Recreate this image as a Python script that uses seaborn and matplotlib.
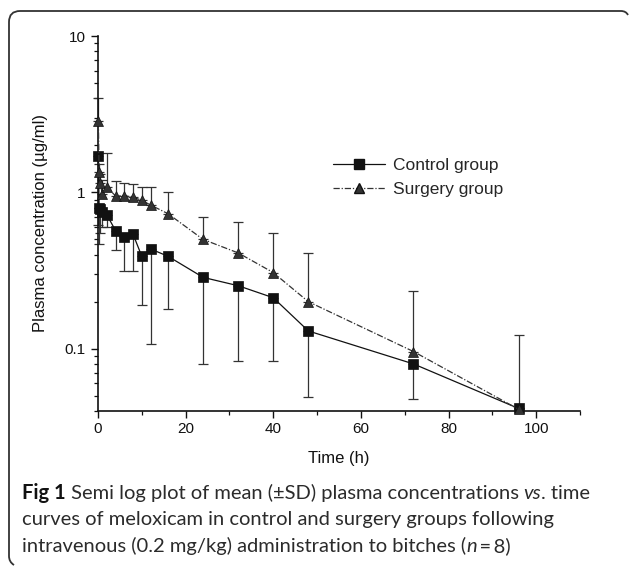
import numpy as np
import pandas as pd
import matplotlib
matplotlib.use("Agg")
import matplotlib.pyplot as plt
import seaborn as sns
from matplotlib.lines import Line2D
from matplotlib.path import Path
from matplotlib.patches import PathPatch
from matplotlib.ticker import NullFormatter, LogLocator

# ---------------- data ----------------
times = [0.083, 0.25, 0.5, 1, 2, 4, 6, 8, 10, 12, 16, 24, 32, 40, 48, 72, 96]
control_mean = [1.70, 0.80, 0.78, 0.75, 0.72, 0.57, 0.52, 0.54, 0.39, 0.435, 0.39,
                0.286, 0.253, 0.212, 0.130, 0.080, 0.0415]
control_low = [0.62, 0.47, 0.55, 0.60, 0.60, 0.43, 0.313, 0.313, 0.19, 0.108, 0.18,
               0.080, 0.084, 0.084, 0.049, 0.048, 0.0415]
surgery_mean = [2.85, 1.35, 1.15, 0.97, 1.08, 0.95, 0.955, 0.93, 0.89, 0.83, 0.73,
                0.50, 0.41, 0.307, 0.20, 0.096, 0.041]
surgery_high = [4.0, 1.53, 1.32, 1.20, 1.78, 1.18, 1.15, 1.13, 1.09, 1.09, 1.00,
                0.70, 0.645, 0.55, 0.41, 0.235, 0.123]
groups = ["Control group", "Surgery group"]
x_ticks = [0, 20, 40, 60, 80, 100]
y_ticks = [0.1, 1, 10]
y_tick_labels = ["0.1", "1", "10"]

df = pd.DataFrame({
    "time": times + times,
    "conc": control_mean + surgery_mean,
    "group": [groups[0]] * len(times) + [groups[1]] * len(times),
})

# ---------------- figure ----------------
sns.set_theme(style="ticks")
plt.rcParams["font.family"] = ["Liberation Sans", "DejaVu Sans"]

W, H = 630, 567
fig = plt.figure(figsize=(W / 100, H / 100), dpi=100)
ax = fig.add_axes([98 / W, 1 - 411 / H, (580 - 98) / W, (411 - 36) / H])

# error bars (one-sided)
c_low = np.array(control_mean) - np.array(control_low)
ax.errorbar(times, control_mean, yerr=[c_low, np.zeros(len(times))], fmt="none",
            ecolor="#333333", elinewidth=0.9, capsize=3.5, capthick=0.9, zorder=1,
            clip_on=False)
s_high = np.array(surgery_high) - np.array(surgery_mean)
ax.errorbar(times, surgery_mean, yerr=[np.zeros(len(times)), s_high], fmt="none",
            ecolor="#333333", elinewidth=0.9, capsize=3.5, capthick=0.9, zorder=1,
            clip_on=False)

sns.lineplot(data=df, x="time", y="conc", hue="group", style="group",
             palette={groups[0]: "#111111", groups[1]: "#333333"},
             markers={groups[0]: "s", groups[1]: "^"},
             dashes={groups[0]: "", groups[1]: (5, 1.5, 1, 1.5)},
             markersize=7.5, markeredgecolor="#111111", markeredgewidth=0.5,
             linewidth=0.9, ax=ax, legend=False, zorder=3, clip_on=False)

ax.set_yscale("log")
ax.set_xlim(0, 110)
ax.set_ylim(0.04, 10)
ax.set_xticks(x_ticks)
ax.set_xticks(np.arange(10, 111, 20), minor=True)
ax.set_yticks(y_ticks)
ax.set_yticklabels(y_tick_labels)
ax.yaxis.set_minor_locator(LogLocator(base=10, subs=np.arange(2, 10)))
ax.yaxis.set_minor_formatter(NullFormatter())

for s in ["top", "right"]:
    ax.spines[s].set_visible(False)
for s in ["left", "bottom"]:
    ax.spines[s].set_linewidth(1.2)
    ax.spines[s].set_color("#111111")
ax.tick_params(axis="both", which="major", direction="out", length=5, width=1.0,
               labelsize=11, colors="#111111", pad=3)
ax.tick_params(axis="both", which="minor", direction="out", length=3, width=0.9,
               colors="#111111")
ax.tick_params(axis="y", which="major", pad=4)
ax.set_xlabel("Time (h)", fontsize=12, labelpad=11, color="#111111")
ax.set_ylabel("Plasma concentration (\u00b5g/ml)", fontsize=12, labelpad=12, color="#111111")
ax.grid(False)

# legend
handles = [
    Line2D([], [], color="#111111", lw=0.9, marker="s", markersize=7.5,
           markeredgecolor="#111111"),
    Line2D([], [], color="#333333", lw=0.9, ls=(0, (5, 1.5, 1, 1.5)), marker="^",
           markersize=7.5, markeredgecolor="#111111"),
]
leg = ax.legend(handles, groups, loc="upper left",
                bbox_to_anchor=((326 - 98) / (580 - 98), (411 - 151) / (411 - 36)),
                frameon=False, fontsize=12.5, handlelength=3.0, handletextpad=0.45,
                labelspacing=0.5, borderaxespad=0)

# ---------------- caption ----------------
cap_color = "#2b2b2b"
cap_font = ["Lato", "DejaVu Sans"]
cap_size = 14.5
lines = [
    [("Fig 1", "bold", "normal"), (" Semi log plot of mean (\u00b1SD) plasma concentrations ", "normal", "normal"),
     ("vs", "normal", "italic"), (". time", "normal", "normal")],
    [("curves of meloxicam in control and surgery groups following", "normal", "normal")],
    [("intravenous (0.2 mg/kg) administration to bitches (", "normal", "normal"),
     ("n", "normal", "italic"), ("\u2009=\u20098)", "normal", "normal")],
]
baselines = [499, 525.5, 552]
renderer = fig.canvas.get_renderer()
for segs, base in zip(lines, baselines):
    xpix = 22
    for txt, wt, st in segs:
        t = fig.text(xpix / W, 1 - base / H, txt, fontsize=cap_size, fontweight=wt,
                     fontstyle=st, family=cap_font, color="#111111" if wt == "bold" else cap_color,
                     va="baseline", ha="left")
        bb = t.get_window_extent(renderer)
        xpix += bb.width

# ---------------- frame ----------------
def fp(x, y):
    return (x / W, 1 - y / H)

verts = [fp(14, 565), fp(9, 562), fp(9, 556), fp(9, 22), fp(9, 11), fp(20, 11),
         fp(621, 11), fp(626, 11), fp(628, 15)]
codes = [Path.MOVETO, Path.CURVE3, Path.CURVE3, Path.LINETO, Path.CURVE3, Path.CURVE3,
         Path.LINETO, Path.CURVE3, Path.CURVE3]
fig.add_artist(PathPatch(Path(verts, codes), transform=fig.transFigure, fill=False,
                         lw=1.3, edgecolor="#333333"))

fig.savefig("out.png", dpi=100)
